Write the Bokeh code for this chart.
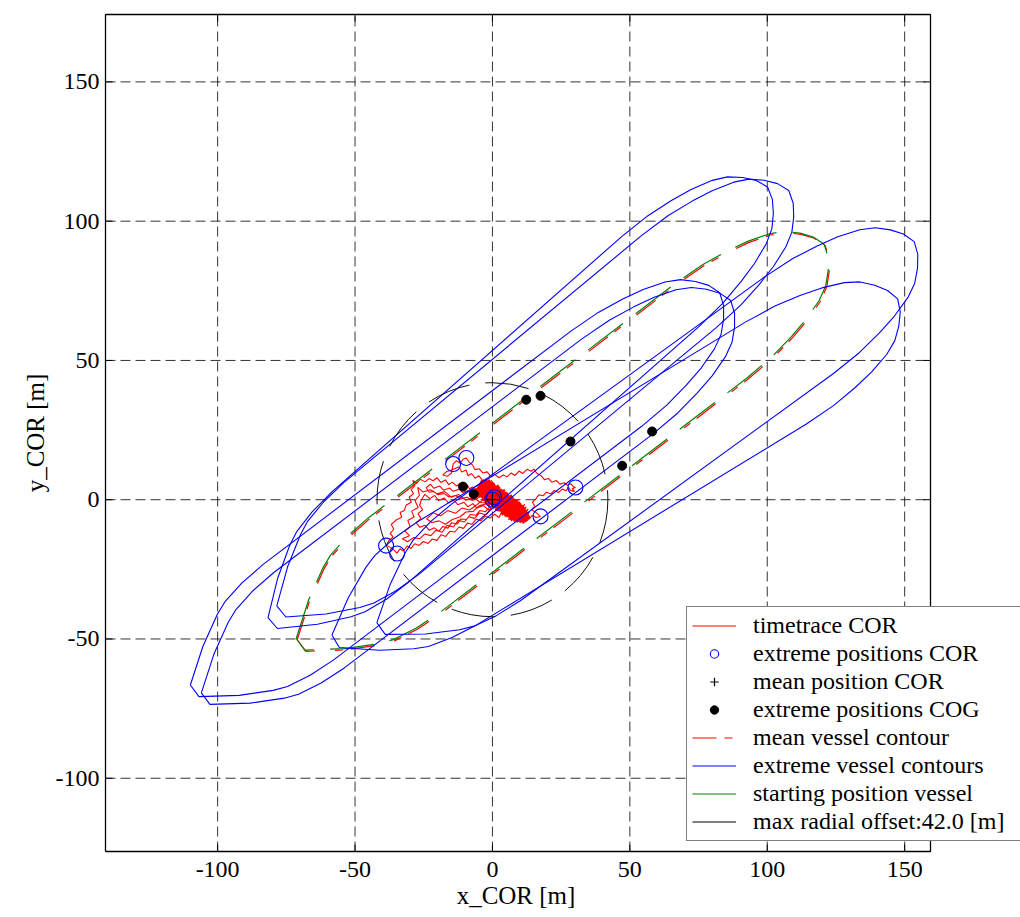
import numpy as np
from bokeh.plotting import figure
from bokeh.models import Range1d, FixedTicker, Legend, LegendItem, Title
from bokeh.embed import file_html
from bokeh.resources import INLINE

# ---------------- data ----------------
x_ticks = [-100, -50, 0, 50, 100, 150]
y_ticks = [-100, -50, 0, 50, 100, 150]
x_tick_labels = ["-100", "-50", "0", "50", "100", "150"]
y_tick_labels = ["-100", "-50", "0", "50", "100", "150"]
x_lim = (-140.8, 159.4)
y_lim = (-126.3, 174.2)
x_label = "x_COR [m]"
y_label = "y_COR [m]"

# vessel hull outline, port half, local coords from COR: s along heading, n to port [m]
hull_s = [-87.0, -75.0, -64.0, -59.0, -50.0, -40.0, 100.0, 112.0, 122.0, 130.0, 138.0, 143.0, 147.0, 150.0, 151.6]
hull_n = [2.6, 11.0, 17.0, 19.0, 20.7, 21.4, 21.4, 20.8, 19.3, 17.6, 15.0, 12.3, 8.5, 4.5, 0.0]

# extreme COR positions and headings [deg]
ext_cor_x = [-38.7, -34.7, -14.3, -9.5, 17.5, 30.2]
ext_cor_y = [-16.5, -19.3, 12.8, 15.0, -6.0, 4.4]
ext_heading = [36.8, 36.8, 41.0, 39.3, 31.0, 35.6]

mean_cor_x, mean_cor_y, mean_heading = 0.0, 0.0, 37.0
start_cor_x, start_cor_y, start_heading = -0.35, 0.45, 37.0

circle_x = ext_cor_x + [0.0, 0.6]
circle_y = ext_cor_y + [0.0, 0.9]

cog_x = [-10.7, -6.8, 12.3, 17.5, 28.4, 58.1, 47.2]
cog_y = [4.7, 2.0, 35.9, 37.3, 20.9, 24.5, 12.2]

max_radial_offset = 42.0

trace_xy = [
    # dense central cloud
    (-3.83, 7.12), (-6.0, 3.27), (-2.32, 7.51), (-5.66, 2.04), (-1.28, 7.23), (-5.07, 1.14), (-0.23, 6.99),
    (-4.03, 0.86), (0.34, 6.06), (-3.69, -0.37), (0.92, 5.17), (-2.65, -0.62), (2.2, 5.23), (-1.6, -0.89),
    (2.77, 4.31), (-1.26, -2.13), (3.35, 3.41), (-0.21, -2.37), (4.63, 3.48), (0.83, -2.65), (5.2, 2.55),
    (1.17, -3.88), (5.78, 1.65), (2.22, -4.13), (7.06, 1.72), (3.26, -4.4), (7.63, 0.79), (3.6, -5.64),
    (8.21, -0.1), (4.65, -5.89), (9.49, -0.04), (5.69, -6.16), (10.06, -0.96), (6.27, -7.06), (10.64, -1.86),
    (7.31, -7.33), (11.45, -2.44), (8.35, -7.6), (12.03, -3.35), (9.4, -7.85), (12.6, -4.26), (10.44, -8.12),
    (13.18, -5.17), (11.72, -8.05), (12.82, -7.37),
    (13.56, -5.93), (11.05, -8.56), (13.45, -4.38), (10.01, -8.29), (12.99, -3.31), (8.84, -8.2), (12.29, -2.57),
    (7.8, -7.93), (11.72, -1.65), (6.76, -7.68), (10.56, -1.55), (5.83, -7.25), (9.98, -0.64), (5.37, -6.17),
    (9.29, 0.11), (4.33, -5.92), (8.24, 0.35), (3.4, -5.49), (7.55, 1.12), (2.94, -4.42), (6.86, 1.87),
    (1.9, -4.16), (5.81, 2.11), (0.97, -3.74), (5.12, 2.88), (0.51, -2.66), (4.43, 3.62), (-0.53, -2.4),
    (3.38, 3.87), (-1.46, -1.98), (2.69, 4.63), (-1.92, -0.91), (2.0, 5.38), (-2.96, -0.65), (0.95, 5.62),
    (-3.65, 0.12), (0.26, 6.39), (-4.36, 0.85), (-0.78, 6.64), (-5.05, 1.59), (-1.82, 6.91), (-5.63, 2.5),
    (-2.99, 7.0), (-5.97, 3.73),
    # outer left loop
    (-7.2, 4.6), (-8.4, 3.9), (-9.1, 5.2), (-10.6, 4.4), (-11.8, 5.9), (-13.0, 4.9), (-14.6, 6.3), (-15.9, 5.4),
    (-17.1, 7.1), (-18.8, 6.2), (-20.2, 7.9), (-21.6, 6.8), (-23.1, 7.6), (-24.5, 6.4), (-26.2, 7.3), (-27.4, 6.1),
    (-29.0, 6.9), (-28.3, 5.0), (-29.6, 3.6), (-28.7, 2.2), (-30.3, 0.9), (-29.5, -0.8), (-31.4, -2.0),
    (-32.1, -3.9), (-33.6, -4.6), (-33.0, -6.3), (-35.2, -7.4), (-36.8, -8.9), (-35.9, -10.6), (-37.2, -12.1),
    (-36.1, -13.4), (-37.6, -14.6), (-38.6, -16.3), (-37.0, -17.2), (-35.8, -18.1), (-34.8, -19.2),
    (-33.6, -17.6), (-32.4, -18.4), (-31.0, -16.6), (-29.6, -17.5), (-28.3, -15.8), (-26.7, -16.4),
    (-25.1, -15.0), (-23.4, -15.7), (-21.9, -14.1), (-20.2, -14.6), (-18.7, -12.6), (-17.0, -13.2),
    (-15.4, -11.3), (-13.7, -11.6), (-12.2, -9.8), (-10.5, -10.3), (-9.1, -8.4), (-7.4, -8.8), (-5.9, -7.0),
    (-4.2, -7.5), (-2.6, -5.9), (-0.9, -6.6), (0.8, -5.2), (2.4, -6.4),
    # inner left loop
    (3.5, -4.0), (1.2, -2.8), (-1.5, -3.6), (-3.3, -2.1), (-5.6, -3.0), (-7.1, -1.4), (-9.0, -2.5),
    (-10.4, -0.9), (-12.6, -1.8), (-14.0, -0.2), (-16.1, -1.1), (-17.5, 0.6), (-19.6, -0.3), (-21.0, 1.5),
    (-22.8, 0.4), (-24.6, 1.9), (-25.8, 0.1), (-26.5, -2.0), (-25.4, -3.6), (-27.1, -5.0), (-26.0, -6.7),
    (-27.8, -8.2), (-26.4, -9.9), (-24.5, -9.2), (-23.0, -11.0), (-21.2, -10.1), (-19.5, -11.3), (-18.0, -9.6),
    (-16.2, -10.2), (-14.9, -8.3), (-12.8, -8.7), (-11.5, -6.9), (-9.4, -7.1), (-8.1, -5.3), (-6.0, -5.6),
    (-4.6, -3.9), (-2.5, -4.3), (-1.0, -2.5),
    # second left loop
    (-1.8, -1.2), (-4.4, -1.0), (-6.9, 0.8), (-9.7, -0.2), (-12.3, 1.9), (-15.0, 0.9), (-17.4, 2.9), (-20.1, 2.1),
    (-22.5, 3.6), (-25.3, 2.8), (-27.2, 4.4), (-26.6, 1.6), (-28.2, -0.4), (-27.0, -2.8), (-29.4, -4.1),
    (-28.5, -6.2), (-30.8, -7.5), (-29.9, -9.6), (-31.9, -11.2), (-30.2, -12.9), (-32.8, -14.0), (-30.9, -15.1),
    (-28.7, -13.6), (-26.4, -14.0), (-24.6, -12.3), (-22.4, -12.9), (-20.6, -11.0), (-18.3, -11.7),
    (-16.5, -9.2), (-14.2, -9.8), (-12.5, -7.4), (-10.2, -8.0), (-8.6, -6.1), (-6.5, -6.7), (-4.8, -4.8),
    (-2.3, -5.4), (-0.6, -3.2),
    # small inner wiggle
    (-2.9, 0.4), (-5.8, -1.9), (-8.3, -3.7), (-11.1, -3.0), (-13.5, -4.9), (-16.3, -3.9), (-18.9, -5.8),
    (-21.6, -4.7), (-23.9, -6.9), (-22.0, -8.2), (-19.4, -7.6), (-17.1, -8.8), (-14.6, -7.1), (-11.9, -6.2),
    (-9.6, -4.4), (-7.0, -4.2), (-4.9, -2.2), (-2.0, -1.4),
    # middle loop
    (-3.2, 1.5), (-5.0, 2.9), (-7.3, 2.1), (-8.6, 3.3), (-10.9, 2.6), (-12.1, 3.8), (-14.3, 3.0), (-15.6, 4.2),
    (-17.8, 3.4), (-19.2, 4.9), (-21.3, 4.1), (-22.6, 5.6), (-24.1, 4.3), (-23.0, 2.7), (-21.4, 3.0),
    (-19.9, 1.8), (-17.6, 2.2), (-15.8, 1.0), (-13.4, 1.5), (-11.6, 0.3), (-9.2, 0.9), (-7.4, -0.3),
    (-5.3, 0.5), (-3.9, 3.2),
    # upper and right excursion
    (-3.8, 7.1), (-4.9, 8.6), (-6.3, 7.7), (-7.6, 9.4), (-8.9, 8.6), (-9.6, 10.7), (-11.2, 9.9), (-12.1, 11.8),
    (-13.6, 11.2), (-15.2, 10.6), (-16.8, 10.0), (-18.1, 8.9), (-16.4, 8.4), (-14.9, 9.6), (-14.3, 12.8),
    (-13.1, 14.0), (-11.7, 13.1), (-10.6, 14.6), (-9.5, 15.0), (-8.6, 13.6), (-7.2, 12.4), (-6.4, 10.8),
    (-4.8, 11.1), (-3.5, 9.6), (-1.9, 10.0), (-0.6, 8.4), (0.9, 9.1), (2.4, 7.9), (3.9, 8.9), (5.3, 8.2),
    (6.8, 9.6), (8.2, 8.7), (9.7, 10.3), (11.0, 9.4), (12.6, 10.9), (14.1, 10.2), (15.1, 11.0), (16.2, 9.4),
    (17.6, 8.7), (18.9, 7.2), (20.4, 7.6), (21.6, 6.3), (23.2, 6.9), (24.6, 5.6), (26.1, 6.1), (27.3, 5.2),
    (28.6, 5.7), (29.5, 4.6), (30.2, 4.4), (29.0, 3.9), (29.9, 3.0), (28.4, 3.3), (27.6, 4.6), (26.9, 3.2),
    (25.4, 3.8), (24.1, 2.6), (22.5, 3.3), (21.2, 2.1), (19.6, 2.7), (18.4, 1.4), (16.9, 1.8), (15.8, 0.3),
    (14.6, -0.9), (15.4, -2.4), (14.2, -3.6), (15.6, -4.4), (16.5, -5.2), (17.4, -6.0), (15.9, -6.4),
    (14.5, -5.6), (13.3, -7.0), (12.0, -6.2), (9.0, -4.0), (5.0, -1.0), (0.0, 0.0),
    # another pass through the central cloud
    (-3.30, 7.22), (-5.93, 2.72), (-1.90, 7.45), (-5.47, 1.65), (-0.86, 7.19), (-4.89, 0.74), (-0.28, 6.28),
    (-3.85, 0.48), (0.76, 6.02), (-3.27, -0.43), (1.34, 5.11), (-2.23, -0.69), (2.38, 4.85), (-1.65, -1.60),
    (2.96, 3.94), (-0.61, -1.86), (4.00, 3.68), (-0.03, -2.77), (4.58, 2.77), (1.01, -3.03), (5.62, 2.51),
    (1.59, -3.94), (6.20, 1.60), (2.63, -4.20), (7.24, 1.34), (3.21, -5.11), (7.82, 0.43), (4.25, -5.37),
    (8.86, 0.17), (4.83, -6.28), (9.44, -0.74), (5.87, -6.54), (10.36, -1.18), (6.57, -7.27), (11.06, -1.91),
    (7.61, -7.55), (11.75, -2.66), (8.65, -7.81), (12.33, -3.56), (9.70, -8.07), (12.90, -4.48),
    (10.86, -8.17), (13.36, -5.54),
]
trace_x = [pt[0] for pt in trace_xy]
trace_y = [pt[1] for pt in trace_xy]

legend_labels = ["timetrace COR", "extreme positions COR", "mean position COR", "extreme positions COG",
                 "mean vessel contour", "extreme vessel contours", "starting position vessel",
                 "max radial offset:42.0 [m]"]


def vessel_outline(cx, cy, heading_deg):
    s = np.array(hull_s + hull_s[-2::-1] + [hull_s[0]])
    n = np.array(hull_n + [-v for v in hull_n[-2::-1]] + [hull_n[0]])
    t = np.radians(heading_deg)
    return list(cx + s * np.cos(t) - n * np.sin(t)), list(cy + s * np.sin(t) + n * np.cos(t))


ext_xs, ext_ys = [], []
for cx, cy, h in zip(ext_cor_x, ext_cor_y, ext_heading):
    xs, ys = vessel_outline(cx, cy, h)
    ext_xs.append(xs)
    ext_ys.append(ys)
mean_xs, mean_ys = vessel_outline(mean_cor_x, mean_cor_y, mean_heading)
start_xs, start_ys = vessel_outline(start_cor_x, start_cor_y, start_heading)

# ---------------- layout ----------------
W, H = 1020, 917
BOX_L, BOX_T, BOX_W, BOX_H = 105, 14, 825, 837     # visible axes box (px)
FR_L, FR_T = BOX_L - 2, BOX_T - 2                  # bokeh frame slightly larger than the box
FR_W = W - FR_L                                    # frame runs to the right edge (legend overhangs)
FR_H = BOX_H + 4
ppx = BOX_W / (x_lim[1] - x_lim[0])
ppy = BOX_H / (y_lim[1] - y_lim[0])
x0 = x_lim[0] - 2 / ppx
y0 = y_lim[0] - 2 / ppy

FONT = "Liberation Serif"
p = figure(width=W, height=H,
           x_range=Range1d(x0, x0 + FR_W / ppx), y_range=Range1d(y0, y0 + FR_H / ppy),
           output_backend="svg", toolbar_location=None,
           min_border_left=FR_L, min_border_right=0, min_border_top=FR_T,
           min_border_bottom=H - FR_T - FR_H, y_axis_label=y_label)
p.background_fill_color = "white"
p.border_fill_color = "white"
p.outline_line_color = None
p.xgrid.visible = False
p.ygrid.visible = False

xt = FixedTicker(ticks=x_ticks)
yt = FixedTicker(ticks=y_ticks)
p.xaxis.ticker = xt
p.yaxis.ticker = yt
p.xaxis.major_label_overrides = dict(zip(x_ticks, x_tick_labels))
p.yaxis.major_label_overrides = dict(zip(y_ticks, y_tick_labels))
for ax in (p.xaxis[0], p.yaxis[0]):
    ax.axis_line_color = None
    ax.major_tick_line_color = None
    ax.minor_tick_line_color = None
    ax.major_tick_in = 0
    ax.major_tick_out = 0
    ax.minor_tick_in = 0
    ax.minor_tick_out = 0
    ax.major_label_text_font = FONT
    ax.major_label_text_font_size = "24px"
    ax.major_label_text_color = "black"
    ax.axis_label_text_font = FONT
    ax.axis_label_text_font_size = "25px"
    ax.axis_label_text_font_style = "normal"
    ax.axis_label_text_color = "black"
p.xaxis[0].major_label_standoff = 8
p.yaxis[0].major_label_standoff = 4
p.yaxis[0].axis_label_standoff = 4

# x-axis label centred under the visible box (estimated text width for 25px Times-metric font)
label_w = 0.5 + 0.5 + 0.667 + 0.722 + 0.667 + 0.25 + 0.333 + 0.778 + 0.333
label_left = (BOX_L + BOX_W / 2 - 2) - label_w * 25 / 2
p.add_layout(Title(text=x_label, align="left", offset=label_left - FR_L, standoff=0,
                   text_font=FONT, text_font_size="25px", text_font_style="normal",
                   text_color="black"), "below")

# grid (dashed), drawn only inside the axes box
p.segment(x0=x_ticks, y0=[y_lim[0]] * len(x_ticks), x1=x_ticks, y1=[y_lim[1]] * len(x_ticks),
          line_color="black", line_alpha=0.8, line_width=1, line_dash="10 5")
p.segment(x0=[x_lim[0]] * len(y_ticks), y0=y_ticks, x1=[x_lim[1]] * len(y_ticks), y1=y_ticks,
          line_color="black", line_alpha=0.8, line_width=1, line_dash="10 5")

# ---------------- glyphs ----------------
r_trace = p.line(trace_x, trace_y, line_color="#ff0000", line_width=1.1)
r_mean = p.line(mean_xs, mean_ys, line_color="#ff0000", line_width=1.2, line_dash="24 8 8 20")
r_start = p.line(start_xs, start_ys, line_color="#008000", line_width=1.2, line_dash="44 16")
r_ext = p.multi_line(ext_xs, ext_ys, line_color="#0000ff", line_width=1.1)
p.ellipse(x=[0.0], y=[0.0], width=[2 * max_radial_offset], height=[2 * max_radial_offset],
          fill_color=None, line_color="#111111", line_width=1, line_dash="44 16")
r_cog = p.scatter(cog_x, cog_y, marker="circle", size=9, fill_color="black", line_color="black")
r_circ = p.scatter(circle_x, circle_y, marker="circle", size=15, fill_color=None,
                   line_color="#0000ff", line_width=1.1)
r_mean_pos = p.scatter([mean_cor_x], [mean_cor_y], marker="cross", size=13, line_color="black",
                       line_width=1.2)

# axes box and inward ticks on all four sides
p.line([x_lim[0], x_lim[1], x_lim[1], x_lim[0], x_lim[0]],
       [y_lim[0], y_lim[0], y_lim[1], y_lim[1], y_lim[0]], line_color="black", line_width=1.3)
tlx, tly = 7 / ppx, 7 / ppy
p.segment(x0=x_ticks * 2, y0=[y_lim[0]] * len(x_ticks) + [y_lim[1]] * len(x_ticks),
          x1=x_ticks * 2, y1=[y_lim[0] + tly] * len(x_ticks) + [y_lim[1] - tly] * len(x_ticks),
          line_color="black", line_width=1)
p.segment(x0=[x_lim[0]] * len(y_ticks) + [x_lim[1]] * len(y_ticks), y0=y_ticks * 2,
          x1=[x_lim[0] + tlx] * len(y_ticks) + [x_lim[1] - tlx] * len(y_ticks), y1=y_ticks * 2,
          line_color="black", line_width=1)

# legend proxies (solid samples)
r_start_leg = p.line(np.array([np.nan]), np.array([np.nan]), line_color="#008000", line_width=1.2)
r_rad_leg = p.line(np.array([np.nan]), np.array([np.nan]), line_color="black", line_width=1)

items = [LegendItem(label=legend_labels[0], renderers=[r_trace]),
         LegendItem(label=legend_labels[1], renderers=[r_circ]),
         LegendItem(label=legend_labels[2], renderers=[r_mean_pos]),
         LegendItem(label=legend_labels[3], renderers=[r_cog]),
         LegendItem(label=legend_labels[4], renderers=[r_mean]),
         LegendItem(label=legend_labels[5], renderers=[r_ext]),
         LegendItem(label=legend_labels[6], renderers=[r_start_leg]),
         LegendItem(label=legend_labels[7], renderers=[r_rad_leg])]
legend = Legend(items=items, location=(686 - FR_L, (FR_T + FR_H) - 841), orientation="vertical",
                label_text_font=FONT, label_text_font_size="24px", label_text_color="black",
                glyph_width=44, glyph_height=21, label_height=21, label_standoff=17,
                label_width=320, padding=5, spacing=1, margin=0,
                border_line_color="black", border_line_width=1.2,
                background_fill_color="white", background_fill_alpha=1.0)
p.add_layout(legend)

open("out.html", "w").write(file_html(p, INLINE))
